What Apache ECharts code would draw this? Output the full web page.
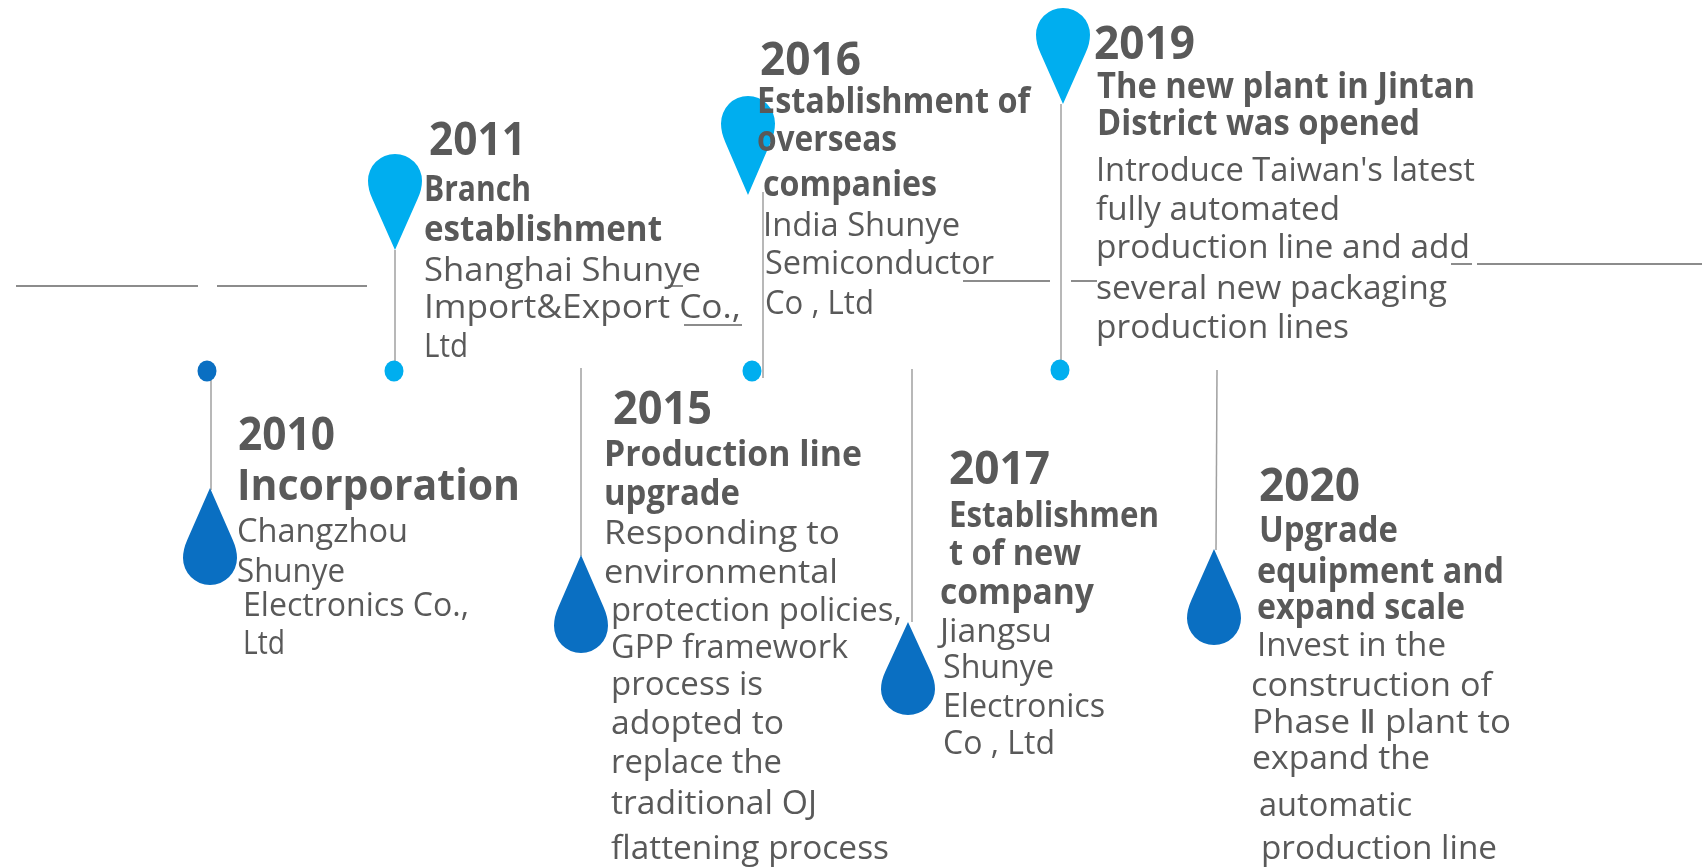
<!DOCTYPE html>
<html>
<head>
<meta charset="utf-8">
<title>Timeline</title>
<script src="https://cdn.jsdelivr.net/npm/echarts@6/dist/echarts.min.js"></script>
<style>
  html, body { margin: 0; padding: 0; background: #fff; }
  #chart { width: 1702px; height: 867px; }
</style>
</head>
<body>
<div id="chart"></div>
<script>
// text of the timeline
const years = ['2010', '2011', '2015', '2016', '2017', '2019', '2020'];
const headings = [
  ['Incorporation'],
  ['Branch', 'establishment'],
  ['Production line', 'upgrade'],
  ['Establishment of', 'overseas', 'companies'],
  ['Establishmen', 't of new', 'company'],
  ['The new plant in Jintan', 'District was opened'],
  ['Upgrade', 'equipment and', 'expand scale']
];
const details = [
  ['Changzhou', 'Shunye', 'Electronics Co.,', 'Ltd'],
  ['Shanghai Shunye', 'Import&Export Co.,', 'Ltd'],
  ['Responding to', 'environmental', 'protection policies,', 'GPP framework', 'process is', 'adopted to', 'replace the', 'traditional OJ', 'flattening process'],
  ['India Shunye', 'Semiconductor', 'Co , Ltd'],
  ['Jiangsu', 'Shunye', 'Electronics', 'Co , Ltd'],
  ["Introduce Taiwan's latest", 'fully automated', 'production line and add', 'several new packaging', 'production lines'],
  ['Invest in the', 'construction of', 'Phase Ⅱ plant to', 'expand the', 'automatic', 'production line']
];

// where each text line sits: [left, right, baseline], same order as the text above
const yearBoxes = [[238, 335, 449], [429, 526, 154], [613, 712, 423], [760, 861, 74], [949, 1050, 483], [1094, 1195, 58], [1259, 1360, 500]];
const headingBoxes = [
  [[237, 520, 499]],
  [[424, 531, 200], [424, 662, 240]],
  [[604, 862, 465], [604, 740, 504]],
  [[757, 1030, 112], [757, 897, 150], [763, 937, 195]],
  [[949, 1159, 526], [949, 1081, 564], [940, 1094, 603]],
  [[1097, 1475, 97], [1097, 1420, 134]],
  [[1259, 1398, 541], [1257, 1504, 582], [1257, 1465, 618]]
];
const detailBoxes = [
  [[237, 408, 541], [237, 345, 581], [243, 469, 615], [243, 285, 653]],
  [[424, 701, 280], [424, 741, 317], [424, 468, 356]],
  [[604, 840, 543], [604, 838, 582], [611, 902, 620], [611, 848, 657], [611, 763, 694], [611, 784, 733], [611, 782, 772], [611, 817, 813], [611, 889, 858]],
  [[763, 960, 235], [765, 994, 273], [765, 874, 313]],
  [[940, 1052, 641], [943, 1054, 677], [943, 1105, 716], [943, 1055, 753]],
  [[1096, 1475, 180], [1096, 1340, 219], [1096, 1470, 257], [1096, 1447, 298], [1096, 1349, 337]],
  [[1257, 1446, 655], [1251, 1492, 695], [1252, 1511, 732], [1252, 1430, 768], [1259, 1412, 815], [1261, 1497, 858]]
];

// pins pointing down [x, top, tip], drops pointing up [x, tip, bottom], dots [x, y]
const lightPins = [[395, 154, 250], [748, 96, 195], [1063, 8, 104]];
const darkDrops = [[210, 488, 585], [581, 555, 653], [908, 622, 715], [1214, 549, 645]];
const lightDots = [[394, 371], [752, 371], [1060, 370]];
const darkDots = [[207, 371]];
// stems [x1, y1, x2, y2]
const stems = [
  [211, 371, 211, 490], [395, 250, 395, 371], [581, 368, 581, 556], [763, 192, 763, 378],
  [912, 369, 912, 622], [1061, 104, 1061, 371], [1217, 370, 1216, 550]
];
// the broken horizontal rule behind the text
const rules = [
  [16, 286, 198, 286], [217, 286, 367, 286], [668, 286, 683, 286], [684, 325, 742, 325],
  [963, 281, 1050, 281], [1071, 281, 1097, 281], [1451, 264, 1472, 264], [1477, 264, 1702, 264]
];

const PIN_DOWN = 'path://M50 180 L8 84 Q0 66 0 50 A50 50 0 1 1 100 50 Q100 66 92 84 Z';
const DROP_UP = 'path://M50 0 L92 96 Q100 114 100 130 A50 50 0 1 1 0 130 Q0 114 8 96 Z';
const FONT = '"Open Sans", "Noto Sans", sans-serif';
const TEXT_COLOR = '#595959';
// drop from the line box bottom to the baseline, in em
const BASELINE_SHIFT = 0.42;

const measureCtx = document.createElement('canvas').getContext('2d');
function textWidth(text, size, weight) {
  measureCtx.font = weight + ' ' + size + 'px ' + FONT;
  return measureCtx.measureText(text).width;
}

// flat list of lines, the custom series below draws one text per row
const textRows = [];
function addRow(text, box, size, weight) {
  textRows.push({ value: box, text: text, size: size, weight: weight });
}
years.forEach(function (y, i) {
  addRow(y, yearBoxes[i], 46, 700);
  headings[i].forEach(function (t, j) {
    addRow(t, headingBoxes[i][j], i === 0 ? 43 : 36, 700);
  });
  details[i].forEach(function (t, j) {
    addRow(t, detailBoxes[i][j], 33, 400);
  });
});

function segmentSeries(list, color, width) {
  return list.map(function (s) {
    return {
      type: 'line',
      data: [[s[0], s[1]], [s[2], s[3]]],
      symbol: 'none',
      silent: true,
      z: 1,
      lineStyle: { color: color, width: width }
    };
  });
}

function pinSeries(list, path, color) {
  return {
    type: 'scatter',
    symbol: path,
    silent: true,
    z: 3,
    itemStyle: { color: color, opacity: 1 },
    data: list.map(function (p) {
      return { value: [p[0], (p[1] + p[2]) / 2], symbolSize: [54, Math.abs(p[2] - p[1])] };
    })
  };
}

function dotSeries(list, color) {
  return {
    type: 'scatter',
    symbol: 'circle',
    symbolSize: [19, 21],
    silent: true,
    z: 3,
    itemStyle: { color: color, opacity: 1 },
    data: list
  };
}

const chart = echarts.init(document.getElementById('chart'));
chart.setOption({
  animation: false,
  backgroundColor: '#fff',
  grid: { left: 0, right: 0, top: 0, bottom: 0 },
  xAxis: { type: 'value', min: 0, max: 1702, show: false },
  yAxis: { type: 'value', min: 0, max: 867, inverse: true, show: false },
  series: [].concat(
    segmentSeries(rules, '#666666', 1.5),
    segmentSeries(stems, '#a0a0a0', 1.5),
    [
      pinSeries(lightPins, PIN_DOWN, '#00aeef'),
      pinSeries(darkDrops, DROP_UP, '#0a6fc2'),
      dotSeries(lightDots, '#00aeef'),
      dotSeries(darkDots, '#0a6fc2'),
      {
        type: 'custom',
        silent: true,
        clip: false,
        z: 5,
        data: textRows,
        renderItem: function (params, api) {
          const row = textRows[params.dataIndex];
          const left = api.coord([api.value(0), api.value(2)]);
          const right = api.coord([api.value(1), api.value(2)]);
          return {
            type: 'text',
            x: left[0],
            y: left[1] + row.size * BASELINE_SHIFT,
            // squeeze or stretch the line so it spans the same width as in the picture
            scaleX: (right[0] - left[0]) / textWidth(row.text, row.size, row.weight),
            style: {
              text: row.text,
              fontFamily: FONT,
              fontSize: row.size,
              fontWeight: row.weight,
              fill: TEXT_COLOR,
              align: 'left',
              verticalAlign: 'bottom',
              lineHeight: row.size * 1.36
            }
          };
        }
      }
    ]
  )
});
</script>
</body>
</html>
